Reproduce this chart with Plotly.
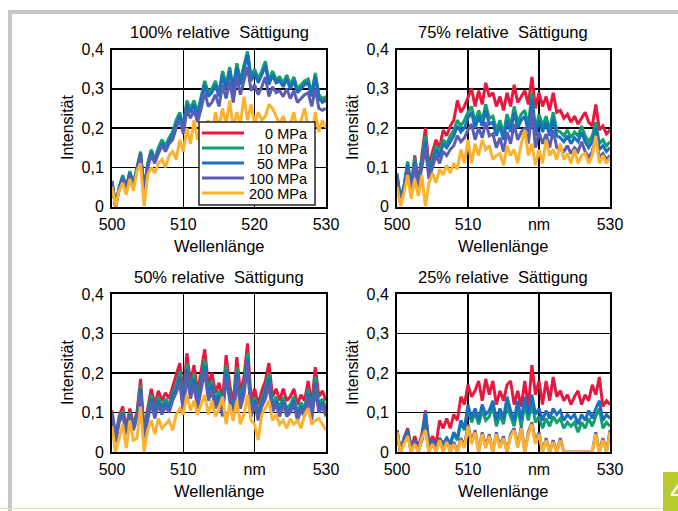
import plotly.graph_objects as go

W, H = 678, 511
FONT = "Liberation Sans, Arial, Helvetica, sans-serif"

# ---------------- data ----------------
WAVELENGTH = [500 + 0.5 * i for i in range(61)]
PRESSURES = ["0 MPa", "10 MPa", "50 MPa", "100 MPa", "200 MPa"]
COLORS = ["#E8173F", "#0FA06E", "#1B6FC1", "#5A5DB0", "#FDB22E"]
TITLES = ["100% relative\u00a0 Sättigung", "75% relative\u00a0 Sättigung",
          "50% relative\u00a0 Sättigung", "25% relative\u00a0 Sättigung"]
X_TICKS = [500, 510, 520, 530]
X_LABELS_A = ["500", "510", "520", "530"]
X_LABELS_B = ["500", "510", "nm", "530"]
Y_TICKS = [0, 0.1, 0.2, 0.3, 0.4]
Y_LABELS = ["0", "0,1", "0,2", "0,3", "0,4"]
X_TITLE = "Wellenlänge"
Y_TITLE = "Intensität"

# 100 % relative Sättigung
S100_0 = [0.06, 0.0, 0.045, 0.075, 0.045, 0.085, 0.055, 0.095, 0.135, 0.04,
          0.105, 0.14, 0.115, 0.145, 0.165, 0.15, 0.17, 0.185, 0.215, 0.235,
          0.2, 0.265, 0.245, 0.265, 0.235, 0.275, 0.315, 0.285, 0.295, 0.315,
          0.285, 0.34, 0.305, 0.35, 0.295, 0.36, 0.315, 0.355, 0.39, 0.325,
          0.345, 0.32, 0.34, 0.365, 0.315, 0.34, 0.32, 0.325, 0.31, 0.33,
          0.305, 0.325, 0.295, 0.305, 0.315, 0.32, 0.285, 0.335, 0.28, 0.27,
          0.275]
S100_10 = [0.065, 0.0, 0.05, 0.08, 0.05, 0.09, 0.06, 0.10, 0.14, 0.045,
           0.11, 0.145, 0.12, 0.15, 0.17, 0.155, 0.175, 0.19, 0.22, 0.24,
           0.205, 0.27, 0.25, 0.27, 0.24, 0.28, 0.32, 0.29, 0.30, 0.32,
           0.29, 0.345, 0.31, 0.355, 0.30, 0.365, 0.32, 0.36, 0.395, 0.33,
           0.35, 0.325, 0.345, 0.37, 0.32, 0.345, 0.325, 0.33, 0.315, 0.335,
           0.31, 0.33, 0.30, 0.31, 0.32, 0.325, 0.29, 0.34, 0.285, 0.275,
           0.28]
S100_50 = [0.065, 0.0, 0.045, 0.075, 0.045, 0.085, 0.055, 0.095, 0.135, 0.04,
           0.105, 0.14, 0.115, 0.14, 0.16, 0.145, 0.165, 0.18, 0.21, 0.23,
           0.195, 0.26, 0.24, 0.26, 0.23, 0.27, 0.31, 0.28, 0.29, 0.31,
           0.28, 0.335, 0.3, 0.345, 0.29, 0.355, 0.31, 0.35, 0.385, 0.32,
           0.34, 0.315, 0.335, 0.36, 0.31, 0.335, 0.315, 0.32, 0.305, 0.325,
           0.3, 0.32, 0.29, 0.3, 0.31, 0.315, 0.28, 0.33, 0.275, 0.265,
           0.27]
S100_100 = [0.06, 0.0, 0.045, 0.07, 0.045, 0.08, 0.055, 0.09, 0.13, 0.04,
            0.1, 0.13, 0.11, 0.135, 0.155, 0.14, 0.16, 0.17, 0.2, 0.22,
            0.185, 0.245, 0.225, 0.245, 0.215, 0.25, 0.29, 0.255, 0.265, 0.285,
            0.255, 0.31, 0.275, 0.32, 0.265, 0.33, 0.285, 0.32, 0.355, 0.295,
            0.31, 0.285, 0.305, 0.33, 0.28, 0.305, 0.29, 0.295, 0.28, 0.3,
            0.275, 0.295, 0.265, 0.275, 0.285, 0.29, 0.255, 0.3, 0.25, 0.245,
            0.25]
S100_200 = [0.05, 0.0, 0.04, 0.06, 0.03, 0.07, 0.04, 0.09, 0.11, 0.0,
            0.08, 0.10, 0.085, 0.11, 0.12, 0.10, 0.13, 0.14, 0.12, 0.17,
            0.14, 0.2, 0.16, 0.22, 0.17, 0.2, 0.19, 0.22, 0.18, 0.24,
            0.20, 0.25, 0.21, 0.27, 0.20, 0.24, 0.21, 0.28, 0.22, 0.26,
            0.21, 0.24, 0.22, 0.23, 0.26, 0.25, 0.23, 0.21, 0.23, 0.20,
            0.21, 0.24, 0.19, 0.22, 0.25, 0.20, 0.18, 0.24, 0.19, 0.22,
            0.20]

# 75 % relative Sättigung
S75_0 = [0.08, 0.01, 0.05, 0.11, 0.045, 0.13, 0.06, 0.125, 0.20, 0.10,
         0.14, 0.17, 0.15, 0.195, 0.18, 0.205, 0.22, 0.27, 0.24, 0.255,
         0.28, 0.30, 0.255, 0.295, 0.26, 0.315, 0.28, 0.29, 0.255, 0.28,
         0.245, 0.29, 0.255, 0.31, 0.265, 0.28, 0.295, 0.26, 0.33, 0.25,
         0.29, 0.255, 0.28, 0.245, 0.29, 0.24, 0.245, 0.225, 0.235, 0.215,
         0.23, 0.21, 0.225, 0.24, 0.215, 0.205, 0.26, 0.195, 0.205, 0.185,
         0.195]
S75_10 = [0.085, 0.02, 0.055, 0.115, 0.05, 0.125, 0.06, 0.115, 0.18, 0.09,
          0.12, 0.155, 0.135, 0.17, 0.16, 0.18, 0.195, 0.22, 0.205, 0.22,
          0.24, 0.255, 0.215, 0.245, 0.22, 0.26, 0.225, 0.23, 0.195, 0.22,
          0.185, 0.235, 0.205, 0.255, 0.215, 0.235, 0.245, 0.205, 0.29, 0.195,
          0.235, 0.205, 0.23, 0.195, 0.24, 0.195, 0.19, 0.18, 0.195, 0.175,
          0.19, 0.18, 0.205, 0.18, 0.165, 0.18, 0.215, 0.16, 0.17, 0.155,
          0.165]
S75_50 = [0.08, 0.015, 0.05, 0.105, 0.045, 0.115, 0.055, 0.11, 0.165, 0.08,
          0.11, 0.145, 0.125, 0.16, 0.15, 0.165, 0.18, 0.205, 0.19, 0.2,
          0.225, 0.24, 0.2, 0.23, 0.205, 0.245, 0.21, 0.215, 0.18, 0.205,
          0.17, 0.22, 0.19, 0.24, 0.2, 0.22, 0.23, 0.19, 0.275, 0.18,
          0.22, 0.19, 0.215, 0.18, 0.225, 0.18, 0.175, 0.165, 0.18, 0.16,
          0.175, 0.165, 0.19, 0.165, 0.15, 0.165, 0.2, 0.145, 0.155, 0.14,
          0.15]
S75_100 = [0.07, 0.01, 0.045, 0.095, 0.04, 0.105, 0.05, 0.1, 0.15, 0.07,
           0.1, 0.13, 0.11, 0.14, 0.13, 0.145, 0.155, 0.18, 0.165, 0.175,
           0.195, 0.21, 0.17, 0.2, 0.175, 0.215, 0.18, 0.185, 0.15, 0.175,
           0.14, 0.19, 0.16, 0.21, 0.17, 0.19, 0.2, 0.16, 0.245, 0.15,
           0.19, 0.16, 0.185, 0.15, 0.195, 0.15, 0.145, 0.14, 0.155, 0.135,
           0.15, 0.14, 0.165, 0.14, 0.125, 0.14, 0.175, 0.125, 0.135, 0.12,
           0.13]
S75_200 = [0.05, 0.0, 0.035, 0.08, 0.02, 0.07, 0.027, 0.08, 0.0, 0.06,
           0.085, 0.06, 0.095, 0.08, 0.105, 0.085, 0.11, 0.095, 0.145, 0.11,
           0.17, 0.11, 0.16, 0.13, 0.17, 0.145, 0.155, 0.12, 0.13, 0.135,
           0.105, 0.155, 0.13, 0.145, 0.11, 0.16, 0.195, 0.13, 0.16, 0.105,
           0.145, 0.11, 0.17, 0.13, 0.145, 0.12, 0.16, 0.12, 0.135, 0.11,
           0.145, 0.11, 0.13, 0.135, 0.11, 0.13, 0.18, 0.11, 0.13, 0.11,
           0.125]

# 50 % relative Sättigung
S50_0 = [0.105, 0.04, 0.09, 0.115, 0.06, 0.11, 0.07, 0.10, 0.185, 0.05,
         0.11, 0.16, 0.12, 0.155, 0.13, 0.15, 0.135, 0.165, 0.19, 0.225,
         0.14, 0.25, 0.175, 0.22, 0.15, 0.2, 0.26, 0.17, 0.2, 0.15,
         0.175, 0.13, 0.245, 0.17, 0.12, 0.24, 0.15, 0.19, 0.275, 0.13,
         0.16, 0.12, 0.155, 0.18, 0.225, 0.14, 0.16, 0.13, 0.16, 0.13,
         0.14, 0.16, 0.12, 0.145, 0.13, 0.18, 0.12, 0.215, 0.14, 0.155,
         0.13]
S50_10 = [0.1, 0.035, 0.085, 0.105, 0.055, 0.1, 0.065, 0.095, 0.17, 0.045,
          0.1, 0.145, 0.105, 0.14, 0.115, 0.135, 0.12, 0.15, 0.17, 0.205,
          0.12, 0.225, 0.155, 0.2, 0.13, 0.18, 0.235, 0.15, 0.18, 0.13,
          0.155, 0.11, 0.22, 0.15, 0.1, 0.215, 0.13, 0.17, 0.25, 0.11,
          0.14, 0.1, 0.135, 0.16, 0.2, 0.12, 0.14, 0.11, 0.14, 0.11,
          0.12, 0.14, 0.1, 0.125, 0.11, 0.16, 0.1, 0.19, 0.12, 0.135,
          0.11]
S50_50 = [0.095, 0.03, 0.08, 0.1, 0.05, 0.095, 0.06, 0.09, 0.16, 0.04,
          0.09, 0.135, 0.095, 0.13, 0.105, 0.125, 0.11, 0.14, 0.16, 0.19,
          0.11, 0.21, 0.145, 0.185, 0.12, 0.17, 0.22, 0.14, 0.17, 0.12,
          0.145, 0.1, 0.205, 0.14, 0.09, 0.2, 0.12, 0.16, 0.235, 0.1,
          0.13, 0.09, 0.125, 0.15, 0.185, 0.11, 0.13, 0.1, 0.13, 0.1,
          0.11, 0.13, 0.09, 0.115, 0.1, 0.15, 0.09, 0.175, 0.11, 0.125,
          0.1]
S50_100 = [0.09, 0.025, 0.075, 0.095, 0.045, 0.09, 0.055, 0.085, 0.15, 0.035,
           0.08, 0.125, 0.085, 0.12, 0.095, 0.115, 0.1, 0.13, 0.15, 0.175,
           0.1, 0.195, 0.135, 0.17, 0.11, 0.155, 0.205, 0.13, 0.155, 0.11,
           0.135, 0.09, 0.19, 0.13, 0.08, 0.185, 0.11, 0.145, 0.22, 0.09,
           0.12, 0.08, 0.115, 0.135, 0.17, 0.1, 0.12, 0.09, 0.12, 0.09,
           0.1, 0.12, 0.08, 0.105, 0.09, 0.14, 0.08, 0.16, 0.1, 0.115,
           0.09]
S50_200 = [0.065, 0.0, 0.035, 0.07, 0.01, 0.08, 0.03, 0.035, 0.115, 0.0,
           0.055, 0.08, 0.045, 0.085, 0.06, 0.07, 0.08, 0.055, 0.095, 0.11,
           0.095, 0.145, 0.105, 0.13, 0.095, 0.12, 0.145, 0.095, 0.13, 0.09,
           0.11, 0.14, 0.07, 0.12, 0.08, 0.13, 0.07, 0.095, 0.145, 0.08,
           0.07, 0.03, 0.095, 0.11, 0.13, 0.08, 0.095, 0.07, 0.08, 0.06,
           0.085, 0.07, 0.08, 0.06, 0.095, 0.11, 0.07, 0.08, 0.085, 0.07,
           0.055]

# 25 % relative Sättigung
S25_0 = [0.055, 0.0, 0.035, 0.06, 0.01, 0.04, 0.01, 0.045, 0.105, 0.02,
         0.04, 0.02, 0.08, 0.06, 0.085, 0.06, 0.095, 0.08, 0.14, 0.12,
         0.17, 0.14, 0.155, 0.18, 0.13, 0.185, 0.145, 0.18, 0.12, 0.155,
         0.13, 0.17, 0.18, 0.12, 0.155, 0.115, 0.18, 0.11, 0.22, 0.145,
         0.18, 0.12, 0.18, 0.13, 0.19, 0.14, 0.155, 0.13, 0.145, 0.12,
         0.14, 0.155, 0.12, 0.145, 0.13, 0.17, 0.145, 0.19, 0.115, 0.13,
         0.12]
S25_10 = [0.05, 0.0, 0.035, 0.055, 0.005, 0.03, 0.003, 0.03, 0.095, 0.01,
          0.03, 0.005, 0.035, 0.02, 0.035, 0.02, 0.045, 0.03, 0.075, 0.055,
          0.11, 0.075, 0.1, 0.07, 0.105, 0.08, 0.09, 0.115, 0.065, 0.095,
          0.07, 0.12, 0.09, 0.065, 0.11, 0.065, 0.12, 0.08, 0.125, 0.075,
          0.09, 0.06, 0.085, 0.065, 0.09, 0.075, 0.085, 0.06, 0.075, 0.065,
          0.075, 0.05, 0.075, 0.06, 0.085, 0.065, 0.09, 0.11, 0.06, 0.075,
          0.065]
S25_50 = [0.05, 0.0, 0.035, 0.055, 0.005, 0.03, 0.003, 0.03, 0.10, 0.01,
          0.03, 0.005, 0.035, 0.02, 0.035, 0.02, 0.05, 0.035, 0.08, 0.06,
          0.12, 0.085, 0.11, 0.08, 0.12, 0.095, 0.105, 0.13, 0.08, 0.11,
          0.085, 0.14, 0.105, 0.08, 0.13, 0.08, 0.14, 0.095, 0.145, 0.095,
          0.11, 0.08, 0.105, 0.085, 0.11, 0.095, 0.105, 0.08, 0.095, 0.085,
          0.095, 0.07, 0.095, 0.08, 0.105, 0.085, 0.11, 0.13, 0.08, 0.095,
          0.085]
S25_100 = [0.055, 0.0, 0.025, 0.045, 0.0, 0.025, 0.0, 0.04, 0.06, 0.0,
           0.025, 0.0, 0.035, 0.0, 0.03, 0.0, 0.025, 0.0, 0.035, 0.015,
           0.07, 0.025, 0.055, 0.0, 0.05, 0.015, 0.045, 0.0, 0.05, 0.015,
           0.04, 0.0, 0.045, 0.06, 0.015, 0.065, 0.0, 0.05, 0.075, 0.025,
           0.05, 0.0, 0.035, 0.0, 0.03, 0.0, 0.035, 0.0, 0.0, 0.0,
           0.0, 0.0, 0.0, 0.0, 0.0, 0.0, 0.05, 0.0, 0.035, 0.0,
           0.055]
S25_200 = [0.05, 0.0, 0.02, 0.04, 0.0, 0.02, 0.0, 0.035, 0.055, 0.0,
           0.02, 0.0, 0.03, 0.0, 0.025, 0.0, 0.02, 0.0, 0.03, 0.01,
           0.065, 0.02, 0.05, 0.0, 0.045, 0.01, 0.04, 0.0, 0.045, 0.01,
           0.035, 0.0, 0.04, 0.055, 0.01, 0.06, 0.0, 0.045, 0.07, 0.02,
           0.045, 0.0, 0.03, 0.0, 0.025, 0.0, 0.03, 0.0, 0.0, 0.0,
           0.0, 0.0, 0.0, 0.0, 0.0, 0.0, 0.045, 0.0, 0.03, 0.0,
           0.05]

# ---------------- layout helpers ----------------
def fx(px):
    return px / W


def fy(py):
    return 1 - py / H


PANELS = [
    dict(series=[S100_0, S100_10, S100_50, S100_100, S100_200], xlabels=X_LABELS_A,
         px=(112, 326), py=(49.5, 206.5)),
    dict(series=[S75_0, S75_10, S75_50, S75_100, S75_200], xlabels=X_LABELS_B,
         px=(397, 610), py=(49.5, 206.5)),
    dict(series=[S50_0, S50_10, S50_50, S50_100, S50_200], xlabels=X_LABELS_B,
         px=(112, 326), py=(294, 452)),
    dict(series=[S25_0, S25_10, S25_50, S25_100, S25_200], xlabels=X_LABELS_B,
         px=(397, 610), py=(294, 452)),
]

fig = go.Figure()
layout = dict(
    width=W, height=H,
    margin=dict(l=0, r=0, t=0, b=0, pad=0, autoexpand=False),
    paper_bgcolor="white", plot_bgcolor="white",
    font=dict(family=FONT, size=16, color="black"),
    showlegend=True,
)
annotations = []
shapes = []

for i, p in enumerate(PANELS):
    n = "" if i == 0 else str(i + 1)
    for k, (vals, name, col) in enumerate(zip(p["series"], PRESSURES, COLORS)):
        pad = "\u00a0" * (2 * (7 - len(name)))
        fig.add_trace(go.Scatter(
            x=WAVELENGTH, y=vals, mode="lines", name=pad + name,
            line=dict(color=col, width=3),
            xaxis="x" + n, yaxis="y" + n,
            showlegend=(i == 0),
            legend="legend" if k == 0 else "legend" + str(k + 1),
        ))
    x0, x1 = p["px"]
    y0, y1 = p["py"]
    layout["xaxis" + n] = dict(
        domain=[fx(x0), fx(x1)], anchor="y" + n, range=[500, 530],
        tickvals=X_TICKS, ticktext=p["xlabels"],
        ticks="outside", ticklen=2, tickcolor="rgba(0,0,0,0)",
        showgrid=True, gridcolor="black", gridwidth=1.5,
        showline=True, linecolor="black", linewidth=2, mirror=True,
        zeroline=False, fixedrange=True, automargin=False, tickfont=dict(size=16),
    )
    layout["yaxis" + n] = dict(
        domain=[fy(y1), fy(y0)], anchor="x" + n, range=[0, 0.4],
        tickvals=Y_TICKS, ticktext=Y_LABELS,
        ticks="outside", ticklen=3, tickcolor="rgba(0,0,0,0)",
        showgrid=True, gridcolor="black", gridwidth=1.5,
        showline=True, linecolor="black", linewidth=2, mirror=True,
        zeroline=False, fixedrange=True, automargin=False, tickfont=dict(size=16),
    )
    cx = (x0 + x1) / 2
    cy = (y0 + y1) / 2
    annotations.append(dict(text=TITLES[i], x=fx(cx), y=fy(y0 - 17), xref="paper", yref="paper",
                            xanchor="center", yanchor="middle", showarrow=False,
                            font=dict(size=16.5)))
    annotations.append(dict(text=X_TITLE, x=fx(cx), y=fy(y1 + 39), xref="paper", yref="paper",
                            xanchor="center", yanchor="middle", showarrow=False,
                            font=dict(size=16.5)))
    annotations.append(dict(text=Y_TITLE, x=fx(x0 - 45), y=fy(cy), xref="paper", yref="paper",
                            xanchor="center", yanchor="middle", showarrow=False,
                            textangle=-90, font=dict(size=16)))

# legend box (inside first panel)
shapes.append(dict(type="rect", xref="paper", yref="paper", layer="above",
                   x0=fx(199), x1=fx(315), y0=fy(205), y1=fy(122),
                   fillcolor="white", line=dict(color="#222", width=1.5)))
LEGEND_ROWS = [133, 148, 163, 178, 193]
for k, ry in enumerate(LEGEND_ROWS):
    key = "legend" if k == 0 else "legend" + str(k + 1)
    layout[key] = dict(x=fx(197), y=fy(ry), xanchor="left", yanchor="middle",
                       bgcolor="rgba(0,0,0,0)", borderwidth=0, itemwidth=42,
                       font=dict(size=14.5, family=FONT, color="black"))

# page decoration: grey frame, green tab
shapes.append(dict(type="line", xref="paper", yref="paper", x0=fx(8), x1=1, y0=fy(12), y1=fy(12),
                   line=dict(color="#c8c8c8", width=4)))
shapes.append(dict(type="line", xref="paper", yref="paper", x0=fx(10), x1=fx(10), y0=fy(10), y1=0,
                   line=dict(color="#c8c8c8", width=4)))
shapes.append(dict(type="line", xref="paper", yref="paper", x0=0, x1=fx(663), y0=fy(508.5), y1=fy(508.5),
                   line=dict(color="#dfe7a6", width=1)))
shapes.append(dict(type="rect", xref="paper", yref="paper", x0=fx(663), x1=1, y0=0, y1=fy(472),
                   fillcolor="#B8CB2C", line=dict(width=0)))
annotations.append(dict(text="4", x=fx(668), y=fy(490), xref="paper", yref="paper",
                        xanchor="left", yanchor="middle", showarrow=False,
                        font=dict(size=30, color="white")))

layout["annotations"] = annotations
layout["shapes"] = shapes
fig.update_layout(**layout)
fig.write_html(
    "out.html",
    config={"displayModeBar": False, "staticPlot": True},
    post_script="document.body.style.margin='0px';document.body.style.padding='0px';"
                "document.body.style.overflow='hidden';"
                "document.documentElement.style.overflow='hidden';",
)
